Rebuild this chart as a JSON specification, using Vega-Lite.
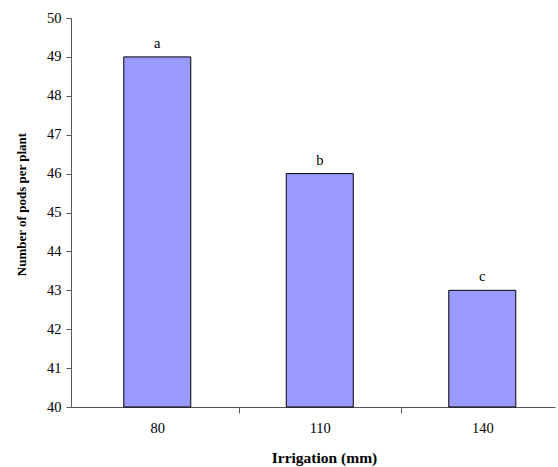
{
  "$schema": "https://vega.github.io/schema/vega-lite/v6.json",
  "width": 484,
  "height": 389,
  "autosize": "none",
  "padding": {"left": 71, "top": 18, "right": 3, "bottom": 60},
  "background": "white",
  "config": {
    "view": {"stroke": null},
    "font": "Liberation Serif",
    "axis": {"grid": false, "domainColor": "#555", "tickColor": "#555", "labelColor": "#000", "titleColor": "#000", "labelFont": "Liberation Serif", "titleFont": "Liberation Serif", "labelFontSize": 14.5, "titleFontSize": 14, "titleFontWeight": "bold"}
  },
  "data": {"values": [
    {"irrigation": 80, "pods": 49, "group": "a"},
    {"irrigation": 110, "pods": 46, "group": "b"},
    {"irrigation": 140, "pods": 43, "group": "c"}
  ]},
  "layer": [
    {
      "mark": {"type": "bar", "width": 67, "color": "#9999FF", "stroke": "#000", "strokeWidth": 1},
      "encoding": {
        "x": {"field": "irrigation", "type": "quantitative", "scale": {"domain": [65, 152.5], "nice": false, "zero": false},
              "axis": {"values": [95, 125], "labels": false, "tickSize": 6, "title": null}},
        "y": {"field": "pods", "type": "quantitative", "scale": {"domain": [40, 50], "nice": false, "zero": false},
              "axis": {"values": [40, 41, 42, 43, 44, 45, 46, 47, 48, 49, 50], "labelOverlap": false, "tickSize": 5, "labelPadding": 5, "title": "Number of pods per plant", "titlePadding": 18, "titleFontSize": 13, "titleY": 186}},
        "y2": {"datum": 40}
      }
    },
    {
      "mark": {"type": "text", "baseline": "alphabetic", "dy": -9, "fontSize": 14.5, "font": "Liberation Serif", "color": "#000"},
      "encoding": {
        "x": {"field": "irrigation", "type": "quantitative",
              "axis": {"values": [80, 110, 140], "ticks": false, "domain": false, "labelPadding": 14, "title": "Irrigation (mm)", "titlePadding": 16, "titleFontSize": 15.5, "titleX": 253, "orient": "bottom"}},
        "y": {"field": "pods", "type": "quantitative",
              "axis": {"values": [40, 41, 42, 43, 44, 45, 46, 47, 48, 49, 50], "labelOverlap": false, "tickSize": 5, "labelPadding": 5, "title": "Number of pods per plant", "titlePadding": 18, "titleFontSize": 13, "titleY": 186}},
        "text": {"field": "group"}
      }
    }
  ],
  "resolve": {"axis": {"x": "independent"}}
}
